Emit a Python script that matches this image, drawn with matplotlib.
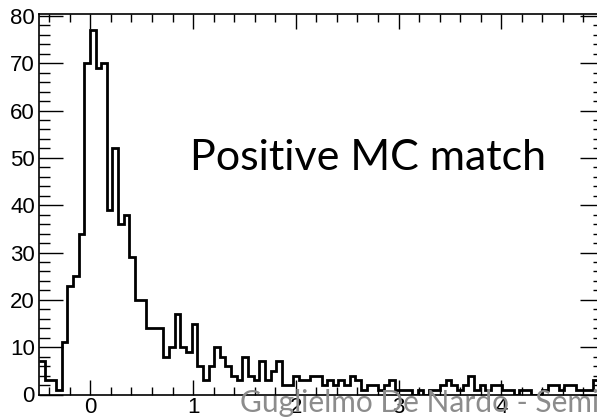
import numpy as np
import matplotlib
matplotlib.use("Agg")
import matplotlib.pyplot as plt
from matplotlib.ticker import MultipleLocator

# histogram binning (100 bins from -0.5 to 5)
x_lo, x_hi, n_bins = -0.5, 5.0, 100

# bin contents
counts = [
    7, 3, 3, 1, 11, 23, 25, 34, 70, 77,
    69, 70, 39, 52, 36, 38, 29, 20, 20, 14,
    14, 14, 8, 10, 17, 10, 9, 15, 6, 3,
    6, 10, 8, 6, 4, 3, 8, 4, 3, 7,
    3, 5, 7, 2, 2, 4, 3, 3, 4, 4,
    2, 3, 2, 3, 2, 4, 3, 1, 2, 2,
    1, 2, 3, 1, 1, 1, 0, 1, 0, 1,
    1, 2, 3, 2, 1, 2, 4, 1, 2, 1,
    2, 2, 1, 1, 0, 1, 1, 0, 0, 1,
    2, 2, 1, 2, 2, 1, 1, 1, 3, 1,
]

x_ticks = [0, 1, 2, 3, 4, 5]
y_ticks = [0, 10, 20, 30, 40, 50, 60, 70, 80]

title_text = "Positive MC match"
footer_text = "Guglielmo De Nardo - Seminario"


def main():
    edges = np.linspace(x_lo, x_hi, n_bins + 1)

    fig = plt.figure(figsize=(5.97, 4.17), dpi=100)
    # frame runs past the right edge of the picture, as in the reference
    ax = fig.add_axes([39 / 597, 22.5 / 417, 565 / 597, 380.5 / 417])

    ax.stairs(counts, edges, color="black", linewidth=2, baseline=None)

    ax.set_xlim(x_lo, x_hi)
    ax.set_ylim(0, 80.4)

    ax.set_xticks(x_ticks)
    ax.set_yticks(y_ticks)
    ax.xaxis.set_minor_locator(MultipleLocator(0.2))
    ax.yaxis.set_minor_locator(MultipleLocator(2))

    ax.tick_params(axis="both", which="both", direction="in",
                   top=True, right=True, width=1, color="black")
    ax.tick_params(axis="x", which="major", length=11, labelsize=16, pad=2)
    ax.tick_params(axis="x", which="minor", length=6)
    ax.tick_params(axis="y", which="major", length=17, labelsize=16, pad=3)
    ax.tick_params(axis="y", which="minor", length=8)
    for lab in ax.get_xticklabels() + ax.get_yticklabels():
        lab.set_fontfamily("Liberation Sans")
    for sp in ax.spines.values():
        sp.set_linewidth(1.2)

    fig.text(190 / 597, 1 - 170 / 417, title_text, fontsize=31,
             family="Lato", ha="left", va="baseline")
    fig.text(240 / 597, 1 - 403 / 417, footer_text, fontsize=21.5,
             family="Lato", color="#8c8c8c", ha="left", va="center",
             zorder=10)

    fig.savefig("out.png", dpi=100)


if __name__ == "__main__":
    main()
